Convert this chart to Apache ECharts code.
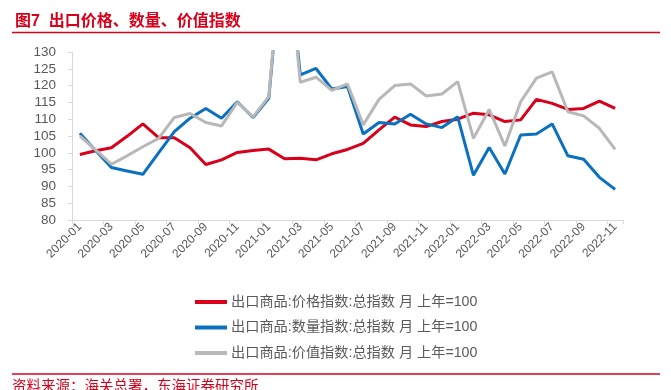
<!DOCTYPE html>
<html>
<head>
<meta charset="utf-8">
<script src="https://cdn.jsdelivr.net/npm/echarts@6/dist/echarts.min.js"></script>
<style>
  html, body { margin: 0; padding: 0; background: #fff; }
  #chart { width: 671px; height: 390px; }
</style>
</head>
<body>
<div id="chart"></div>
<script>
// meses 2020-01 .. 2022-11
const months = ['2020-01', '2020-02', '2020-03', '2020-04', '2020-05', '2020-06', '2020-07', '2020-08', '2020-09', '2020-10', '2020-11', '2020-12',
    '2021-01', '2021-02', '2021-03', '2021-04', '2021-05', '2021-06', '2021-07', '2021-08', '2021-09', '2021-10', '2021-11', '2021-12',
    '2022-01', '2022-02', '2022-03', '2022-04', '2022-05', '2022-06', '2022-07', '2022-08', '2022-09', '2022-10', '2022-11'];

// 价格指数
const priceIndex = [99.5, 100.6, 101.5, 104.9, 108.6, 104.5, 104.5, 101.5, 96.5, 97.9, 100.1, 100.7,
    101.1, 98.2, 98.4, 97.9, 99.7, 101.0, 102.8, 106.8, 110.6, 108.3, 107.8, 109.3,
    110.0, 111.8, 111.3, 109.3, 109.8, 115.9, 114.7, 112.9, 113.2, 115.4, 113.2];

// 数量指数 (2021-02 sale del grafico)
const quantityIndex = [105.8, 100.7, 95.6, 94.6, 93.6, 100.0, 106.3, 110.3, 113.2, 110.3, 115.2, 110.5,
    116.2, 168, 123.2, 125.1, 119.0, 119.7, 105.6, 109.0, 108.6, 111.5, 108.6, 107.5,
    110.7, 93.3, 101.6, 93.7, 105.3, 105.6, 108.6, 99.1, 98.1, 92.7, 89.1];

// 价值指数
const valueIndex = [105.0, 100.9, 96.6, 99.1, 101.8, 104.3, 110.5, 111.7, 109.0, 108.0, 115.0, 110.7,
    116.7, 170, 121.0, 122.5, 118.6, 120.5, 108.3, 115.9, 120.0, 120.5, 116.9, 117.5,
    121.2, 104.3, 112.9, 102.0, 115.2, 122.2, 124.1, 112.2, 111.0, 107.3, 101.0];

const seriesNames = [
    '出口商品:价格指数:总指数 月 上年=100',
    '出口商品:数量指数:总指数 月 上年=100',
    '出口商品:价值指数:总指数 月 上年=100'
];

const red = '#d9001b';
const fontLatin = '"Liberation Sans", Arial, "Noto Sans CJK SC", sans-serif';

const myChart = echarts.init(document.getElementById('chart'));

let option = {
    animation: false,
    color: [red, '#0a70c0', '#b8b8b8'],
    title: {
        text: '图7  出口价格、数量、价值指数',
        left: 10,
        top: 9,
        textStyle: {
            color: red,
            fontSize: 16,
            fontWeight: 'bold',
            fontFamily: fontLatin
        }
    },
    grid: {
        left: 72,
        right: 48,
        top: 52,
        bottom: 170
    },
    legend: {
        orient: 'vertical',
        left: 190,
        top: 289,
        icon: 'rect',
        itemWidth: 32,
        itemHeight: 4,
        itemGap: 9.5,
        textStyle: {
            color: '#595959',
            fontSize: 14.2,
            lineHeight: 16,
            fontFamily: fontLatin,
            padding: [0, 0, 0, -1]
        },
        data: seriesNames
    },
    xAxis: {
        type: 'category',
        data: months,
        boundaryGap: true,
        axisLine: {lineStyle: {color: '#d9d9d9', width: 1}},
        axisTick: {show: true, interval: 1, length: 4, lineStyle: {color: '#d9d9d9'}},
        axisLabel: {
            interval: 1,
            rotate: 45,
            margin: 5,
            color: '#595959',
            fontSize: 12,
            fontFamily: fontLatin
        },
        splitLine: {show: false}
    },
    yAxis: {
        type: 'value',
        min: 80,
        max: 130,
        interval: 5,
        axisLine: {show: true, lineStyle: {color: '#d9d9d9', width: 1}},
        axisTick: {show: true, length: 4, lineStyle: {color: '#d9d9d9'}},
        axisLabel: {
            margin: 16,
            color: '#595959',
            fontSize: 13.5,
            fontFamily: fontLatin
        },
        splitLine: {show: false}
    },
    graphic: [
        {
            type: 'line',
            shape: {x1: 12, y1: 32.5, x2: 660, y2: 32.5},
            style: {stroke: red, lineWidth: 1.5}
        },
        {
            type: 'line',
            shape: {x1: 12, y1: 374, x2: 660, y2: 374},
            style: {stroke: red, lineWidth: 1.5}
        },
        {
            type: 'text',
            left: 12,
            top: 378,
            style: {
                text: '资料来源：海关总署，东海证券研究所',
                fill: red,
                font: '14.5px "Noto Sans CJK SC", sans-serif'
            }
        }
    ],
    series: [
        {name: seriesNames[0], type: 'line', data: priceIndex, showSymbol: false, symbol: 'none', lineStyle: {width: 3}, clip: true},
        {name: seriesNames[1], type: 'line', data: quantityIndex, showSymbol: false, symbol: 'none', lineStyle: {width: 3}, clip: true},
        {name: seriesNames[2], type: 'line', data: valueIndex, showSymbol: false, symbol: 'none', lineStyle: {width: 3}, clip: true}
    ]
};

myChart.setOption(option);
</script>
</body>
</html>
